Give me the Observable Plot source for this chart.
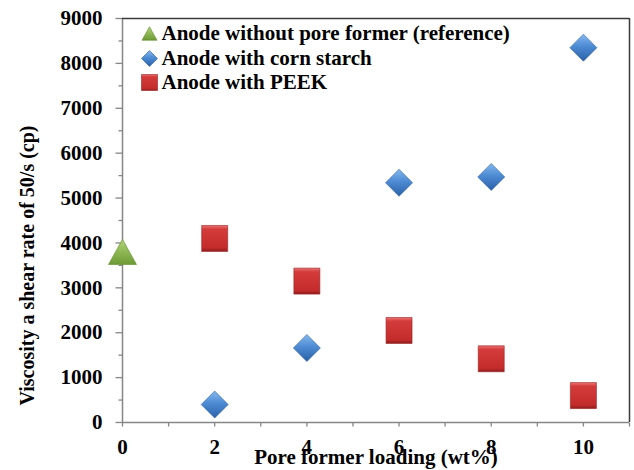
<!DOCTYPE html>
<html><head><meta charset="utf-8">
<script src="https://cdn.jsdelivr.net/npm/d3@7"></script>
<script src="https://cdn.jsdelivr.net/npm/@observablehq/plot@0.6"></script>
<style>
body{margin:0;background:#fff;}
#chart svg, #chart svg text{font-family:"Liberation Serif","Times New Roman",serif !important;}
g[aria-label="marker"] path{filter:drop-shadow(2px 3px 2px rgba(0,0,0,0.35));}
</style></head><body><div id="chart"></div>
<script>
// Data
const seriesNames = ["Anode without pore former (reference)", "Anode with corn starch", "Anode with PEEK"];
const refX = [0];
const refY = [3800];
const cornX = [2, 4, 6, 8, 10];
const cornY = [400, 1660, 5340, 5470, 8350];
const peekX = [2, 4, 6, 8, 10];
const peekY = [4100, 3150, 2050, 1420, 600];
const xTickLabels = [0, 2, 4, 6, 8, 10];
const xMinorTicks = [0, 1, 2, 3, 4, 5, 6, 7, 8, 9, 10, 11];
const yTickLabels = [0, 1000, 2000, 3000, 4000, 5000, 6000, 7000, 8000, 9000];
const yMinorTicks = [500, 1500, 2500, 3500, 4500, 5500, 6500, 7500, 8500];
const xTitle = "Pore former loading (wt%)";
const yTitle = "Viscosity a shear rate of 50/s (cp)";

const toRows = (xs, ys) => xs.map((x, i) => ({x, y: ys[i]}));
const refData = toRows(refX, refY);
const cornData = toRows(cornX, cornY);
const peekData = toRows(peekX, peekY);

// custom symbols (r = sqrt(size/π))
const rad = size => Math.sqrt(size / Math.PI);
const squareSym = {draw(c, s){const r = rad(s); c.rect(-r, -r, 2*r, 2*r);}};
const diamondSym = {draw(c, s){const r = rad(s); c.moveTo(0,-r); c.lineTo(r,0); c.lineTo(0,r); c.lineTo(-r,0); c.closePath();}};
const triSym = {draw(c, s){const r = rad(s); const h = 0.9*r; c.moveTo(0,-h); c.lineTo(r,h); c.lineTo(-r,h); c.closePath();}};
// tick symbols (length = r)
const tickLeft = {draw(c, s){const r = rad(s); c.moveTo(-r, 0); c.lineTo(0, 0);}};
const tickDown = {draw(c, s){const r = rad(s); c.moveTo(0, 0); c.lineTo(0, r);}};

const defsMark = () => {
  const defs = d3.create("svg:defs");
  const grad = (id, stops) => {
    const g = defs.append("linearGradient").attr("id", id).attr("x1",0).attr("y1",0).attr("x2",0).attr("y2",1);
    stops.forEach(([o, c]) => g.append("stop").attr("offset", o).attr("stop-color", c));
  };
  grad("gRed", [["0%","#ea7474"],["14%","#d43c3c"],["86%","#c42c2c"],["100%","#8e1c1c"]]);
  grad("gBlue", [["0%","#86b8ee"],["45%","#4d8bd3"],["100%","#2a61a8"]]);
  grad("gGreen", [["0%","#b0d474"],["100%","#6c9a34"]]);
  return defs.node();
};

const serif = "Liberation Serif, Times New Roman, serif";
const font = {fontSize: 21, fontWeight: "bold", fill: "black", fontFamily: serif};
const legendRows = [
  {sym: triSym, r: 7.5, fill: "url(#gGreen)", stroke: "#5f8a2c", dy: 15},
  {sym: diamondSym, r: 8, fill: "url(#gBlue)", stroke: "#2c5f9e", dy: 40},
  {sym: squareSym, r: 8, fill: "url(#gRed)", stroke: "#9a2020", dy: 64}
];
const axisGray = "#868686";

const chart = Plot.plot({
  width: 634,
  height: 470,
  marginLeft: 122,
  marginRight: 5,
  marginTop: 18,
  marginBottom: 48,
  style: {background: "white", color: "black"},
  x: {domain: [0, 11], axis: null},
  y: {domain: [0, 9000], axis: null},
  marks: [
    defsMark,
    // y ticks
    Plot.dot(yMinorTicks, {x: () => 0, y: d => d, symbol: tickLeft, r: 4, fill: "none", stroke: axisGray, strokeWidth: 1.3}),
    Plot.dot(yTickLabels, {x: () => 0, y: d => d, symbol: tickLeft, r: 7, fill: "none", stroke: axisGray, strokeWidth: 1.3}),
    Plot.text(yTickLabels, {x: () => 0, y: d => d, text: d => String(d), dx: -20, textAnchor: "end", lineAnchor: "middle", ...font}),
    // x ticks
    Plot.dot(xMinorTicks, {x: d => d, y: () => 0, symbol: tickDown, r: 4, fill: "none", stroke: axisGray, strokeWidth: 1.3}),
    Plot.text(xTickLabels, {x: d => d, y: () => 0, text: d => String(d), dy: 25, textAnchor: "middle", lineAnchor: "middle", ...font}),
    // frame
    Plot.ruleX([0], {stroke: axisGray, strokeWidth: 1.5}),
    Plot.ruleY([0], {stroke: axisGray, strokeWidth: 1.5}),
    Plot.ruleY([9000], {stroke: "#3a3a3a", strokeWidth: 1.5}),
    Plot.ruleX([11], {stroke: "#3a3a3a", strokeWidth: 1.5}),
    // series
    Plot.dot(refData, {x: "x", y: "y", symbol: triSym, r: 14, fill: "url(#gGreen)", stroke: "#5f8a2c", strokeWidth: 0.6, ariaLabel: "marker"}),
    Plot.dot(cornData, {x: "x", y: "y", symbol: diamondSym, r: 13.5, fill: "url(#gBlue)", stroke: "#2c5f9e", strokeWidth: 0.6, ariaLabel: "marker"}),
    Plot.dot(peekData, {x: "x", y: "y", symbol: squareSym, r: 13, fill: "url(#gRed)", stroke: "#9a2020", strokeWidth: 0.6, ariaLabel: "marker"}),
    // legend
    ...legendRows.map(L => Plot.dot([0], {frameAnchor: "top-left", dx: 27, dy: L.dy, symbol: L.sym, r: L.r, fill: L.fill, stroke: L.stroke, strokeWidth: 0.6, ariaLabel: "marker"})),
    ...legendRows.map((L, i) => Plot.text([seriesNames[i]], {frameAnchor: "top-left", dx: 39, dy: L.dy, textAnchor: "start", lineAnchor: "middle", ...font})),
    // titles
    Plot.text([xTitle], {frameAnchor: "bottom", dy: 35, textAnchor: "middle", lineAnchor: "middle", ...font}),
    Plot.text([yTitle], {frameAnchor: "left", dx: -95, dy: 45, rotate: -90, textAnchor: "middle", lineAnchor: "middle", ...font, fontSize: 20})
  ]
});
document.getElementById("chart").appendChild(chart);
</script></body></html>
